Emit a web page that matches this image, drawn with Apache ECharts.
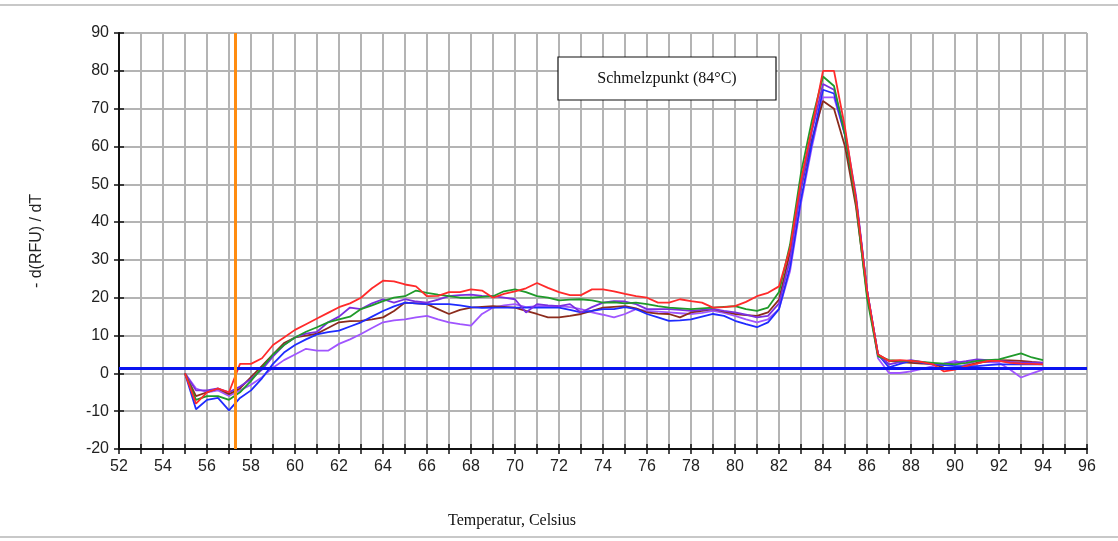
<!DOCTYPE html>
<html>
<head>
<meta charset="utf-8">
<script src="https://cdn.jsdelivr.net/npm/echarts@6/dist/echarts.min.js"></script>
<style>
  html, body { margin: 0; padding: 0; background: #ffffff; }
  #chart { width: 1118px; height: 541px; }
</style>
</head>
<body>
<div id="chart"></div>
<script>
// Melt curve: -d(RFU)/dT against temperature, one curve per sample
const temps = [
  55, 55.5, 56, 56.5, 57, 57.5, 58, 58.5, 59, 59.5,
  60, 60.5, 61, 61.5, 62, 62.5, 63, 63.5, 64, 64.5,
  65, 65.5, 66, 66.5, 67, 67.5, 68, 68.5, 69, 69.5,
  70, 70.5, 71, 71.5, 72, 72.5, 73, 73.5, 74, 74.5,
  75, 75.5, 76, 76.5, 77, 77.5, 78, 78.5, 79, 79.5,
  80, 80.5, 81, 81.5, 82, 82.5, 83, 83.5, 84, 84.5,
  85, 85.5, 86, 86.5, 87, 87.5, 88, 88.5, 89, 89.5,
  90, 90.5, 91, 91.5, 92, 92.5, 93, 93.5, 94
];

const redCurve = [
  0, -8, -5, -4, -5, 2.5, 2.5, 4, 7.5, 9.5,
  11.5, 13, 14.5, 16, 17.5, 18.5, 20, 22.5, 24.5, 24.3,
  23.5, 23, 20.4, 20.5, 21.5, 21.5, 22.2, 21.9, 20, 21,
  21.7, 22.5, 23.9, 22.6, 21.5, 20.7, 20.7, 22.2, 22.2, 21.7,
  21, 20.4, 20, 18.7, 18.7, 19.6, 19.1, 18.7, 17.4, 17.5,
  17.8, 18.9, 20.4, 21.3, 23, 33, 51, 65, 80, 80,
  65, 46, 22, 5, 3.3, 3.5, 3.3, 3, 2.4, 0.5,
  1, 1.9, 2.6, 3.3, 3.3, 2.8, 2.6, 2.5, 2.4
];

const greenCurve = [
  0, -7, -6, -6, -7, -5, -2, 1.5, 5, 7.5,
  9.5, 11, 12.2, 13.5, 14.3, 15, 17, 18, 19.1, 20,
  20.4, 21.9, 21.3, 20.8, 20.4, 20, 20, 20.2, 20.4, 21.7,
  22.2, 21.5, 20.4, 20, 19.3, 19.5, 19.6, 19.3, 18.7, 18.8,
  18.5, 18.7, 18.3, 17.8, 17.4, 17.2, 17, 17.2, 17.4, 17.6,
  17.8, 17, 16.5, 17.4, 21.5, 34, 53, 67, 78.5, 76,
  63, 45, 20, 4.5, 3.5, 3.3, 3.3, 3, 2.8, 2.6,
  2.4, 2.8, 3.3, 3.5, 3.7, 4.5, 5.3, 4.2, 3.5
];

const brownCurve = [
  0, -6, -5, -4, -5.5, -4, -1, 2, 5, 8,
  9.5, 10, 10.5, 12, 13.5, 13.8, 13.9, 14.3, 14.8, 16.5,
  18.7, 18.5, 18.3, 17, 15.7, 16.8, 17.4, 17.6, 17.8, 17.6,
  17.4, 16.5, 15.7, 14.8, 14.8, 15.2, 15.7, 16.5, 17.4, 17.6,
  17.8, 17.2, 16.1, 15.8, 15.7, 14.8, 16.1, 16.5, 17, 16.3,
  15.7, 15.4, 15.2, 16.1, 19.5, 32, 49, 62, 72, 70,
  60, 44, 21, 5, 3.3, 3, 2.8, 2.6, 2.5, 1.5,
  1.2, 2, 2.8, 3.2, 3.5, 3.4, 3.3, 3, 2.8
];

const blueCurve = [
  0, -9.5, -7, -6.5, -9.8, -6.5, -4.5, -1.3, 2.5, 5.5,
  7.5, 9, 10.3, 10.9, 11.3, 12.4, 13.5, 15, 16.5, 17.7,
  18.7, 18.5, 18.3, 18.3, 18.3, 18, 17.5, 17.3, 17.4, 17.4,
  17.4, 17.4, 17.4, 17.4, 17.4, 16.8, 16.1, 16.5, 17, 17,
  17.5, 17, 15.7, 14.8, 13.9, 14, 14.3, 15, 15.7, 15.2,
  13.9, 13, 12.2, 13.5, 17, 28, 46, 61, 75, 74,
  63, 46, 22, 5, 1.6, 2.5, 3.3, 2.8, 2.4, 2.2,
  1.9, 1.9, 1.9, 2.2, 2.4, 2.4, 2.4, 2.4, 2.4
];

const purpleCurve = [
  0, -4.5, -4.5, -4, -5, -3.5, -1.5, 1, 4.5, 7.5,
  9.5, 10.5, 11, 13.5, 15, 17.4, 17, 18.5, 19.6, 18.7,
  19.6, 19, 18.7, 19.5, 20.4, 20.7, 20.8, 20.5, 20.4, 20,
  19.6, 16.1, 18.3, 18, 17.8, 18.3, 16.1, 17.5, 18.7, 19.1,
  19, 18.3, 17, 17, 17, 16.8, 16.5, 16.8, 17, 16.5,
  16.1, 15.5, 14.8, 15.2, 18.5, 30, 49, 64, 76.5, 75,
  64, 47, 22, 5, 2.4, 3, 3.5, 3, 2.5, 2.6,
  2.8, 3.2, 3.7, 3.5, 3.3, 3, 2.8, 2.8, 2.8
];

const violetCurve = [
  0, -4, -5, -4.5, -6, -4.5, -3, -1, 1.5, 3.5,
  5, 6.5, 6, 6, 7.8, 9, 10.4, 12, 13.5, 14,
  14.3, 14.8, 15.2, 14.3, 13.5, 13, 12.6, 15.7, 17.4, 18,
  18.3, 17.5, 17.8, 17.8, 17.8, 17.5, 17, 16.1, 15.5, 14.8,
  15.7, 17, 16.5, 16.3, 16.1, 15.9, 15.7, 16, 16.5, 16,
  15.2, 14.3, 13.5, 14.3, 17, 27, 45, 60, 73, 73,
  63, 46, 22, 4, 0.1, 0.1, 0.5, 1.2, 1.9, 2.6,
  3.3, 2.4, 3.3, 3, 2.8, 1, -1.1, 0, 1
];

const curves = [
  { name: 'A', values: violetCurve, color: '#a055ff' },
  { name: 'B', values: brownCurve, color: '#8b2b1c' },
  { name: 'C', values: blueCurve, color: '#1f2bff' },
  { name: 'D', values: purpleCurve, color: '#7a2ee0' },
  { name: 'E', values: greenCurve, color: '#1f9a2a' },
  { name: 'F', values: redCurve, color: '#ff2a2a' }
];

const thresholdLevel = 1.3;   // horizontal threshold
const cursorTemp = 57.3;      // vertical marker

const xTicks = { min: 52, max: 96, step: 1 };
const yTicks = { min: -20, max: 90, step: 10 };

const chart = echarts.init(document.getElementById('chart'));

const gridBox = { left: 119, right: 31, top: 33, bottom: 92 };

const series = curves.map(c => ({
  name: c.name,
  type: 'line',
  data: temps.map((t, i) => [t, c.values[i]]),
  showSymbol: false,
  symbol: 'none',
  lineStyle: { color: c.color, width: 1.8 },
  z: 3,
  animation: false
}));

series.push({
  type: 'line',
  data: [],
  z: 5,
  animation: false,
  markLine: {
    silent: true,
    symbol: 'none',
    label: { show: false },
    animation: false,
    data: [
      { yAxis: thresholdLevel, lineStyle: { color: '#0a14f0', width: 3, type: 'solid' } },
      { xAxis: cursorTemp, lineStyle: { color: '#ff8c10', width: 3, type: 'solid' } }
    ]
  }
});

const axisText = { color: '#222', fontSize: 16, fontFamily: 'Liberation Sans, Arial, sans-serif' };

chart.setOption({
  backgroundColor: '#ffffff',
  animation: false,
  grid: gridBox,
  xAxis: [
    {
      type: 'value',
      min: xTicks.min, max: xTicks.max, interval: xTicks.step,
      axisLine: { show: true, onZero: false, lineStyle: { color: '#111', width: 2 } },
      axisTick: { show: true, length: 5, lineStyle: { color: '#111', width: 1.5 } },
      axisLabel: Object.assign({ margin: 10, formatter: v => (v % 2 === 0 ? String(v) : '') }, axisText),
      splitLine: { show: true, lineStyle: { color: '#b4b4b4', width: 2 } }
    },
    {
      type: 'value', position: 'bottom',
      min: xTicks.min, max: xTicks.max, interval: xTicks.step,
      axisLine: { show: false, onZero: false },
      axisTick: { show: true, inside: true, length: 5, lineStyle: { color: '#111', width: 1.5 } },
      axisLabel: { show: false },
      splitLine: { show: false }
    }
  ],
  yAxis: [
    {
      type: 'value',
      min: yTicks.min, max: yTicks.max, interval: yTicks.step,
      name: '- d(RFU) / dT',
      nameLocation: 'middle',
      nameGap: 74,
      nameTextStyle: { color: '#222', fontSize: 16, fontFamily: 'Liberation Sans, Arial, sans-serif' },
      axisLine: { show: true, onZero: false, lineStyle: { color: '#111', width: 2 } },
      axisTick: { show: true, length: 5, lineStyle: { color: '#111', width: 1.5 } },
      axisLabel: Object.assign({ margin: 10 }, axisText),
      splitLine: { show: true, lineStyle: { color: '#b4b4b4', width: 2 } }
    },
    {
      type: 'value', position: 'left',
      min: yTicks.min, max: yTicks.max, interval: yTicks.step,
      axisLine: { show: false, onZero: false },
      axisTick: { show: true, inside: true, length: 5, lineStyle: { color: '#111', width: 1.5 } },
      axisLabel: { show: false },
      splitLine: { show: false }
    }
  ],
  series: series,
  graphic: [
    { type: 'line', shape: { x1: 0, y1: 5, x2: 1118, y2: 5 }, style: { stroke: '#c8c8c8', lineWidth: 2 } },
    { type: 'line', shape: { x1: 0, y1: 537, x2: 1118, y2: 537 }, style: { stroke: '#c8c8c8', lineWidth: 2 } },
    {
      type: 'rect', z: 10,
      shape: { x: 558, y: 57, width: 218, height: 43 },
      style: { fill: '#ffffff', stroke: '#111', lineWidth: 1.2 }
    },
    {
      type: 'text', z: 11, x: 667, y: 78.5,
      style: {
        text: 'Schmelzpunkt (84°C)', fill: '#111', fontSize: 16,
        fontFamily: 'Liberation Serif, Times New Roman, serif',
        align: 'center', verticalAlign: 'middle'
      }
    },
    {
      type: 'text', z: 11, x: 512, y: 521,
      style: {
        text: 'Temperatur, Celsius', fill: '#111', fontSize: 16,
        fontFamily: 'Liberation Serif, Times New Roman, serif',
        align: 'center', verticalAlign: 'middle'
      }
    }
  ]
});
</script>
</body>
</html>
